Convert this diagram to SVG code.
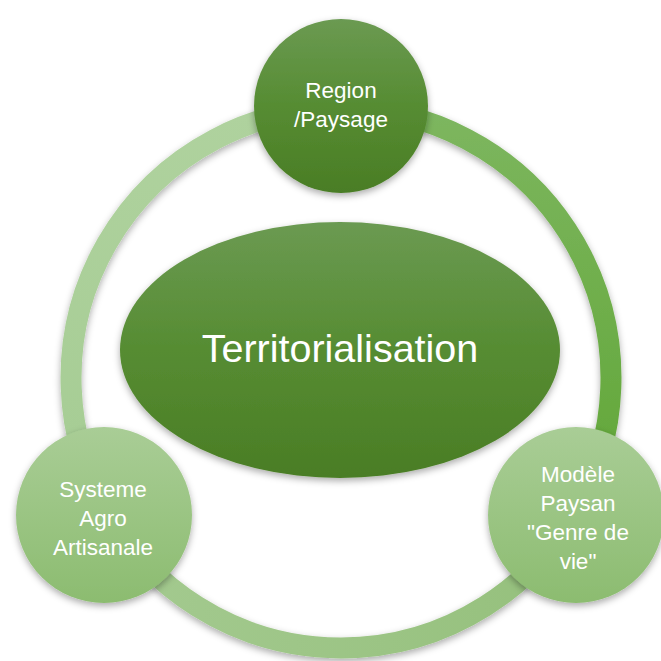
<svg xmlns="http://www.w3.org/2000/svg" width="661" height="661" viewBox="0 0 661 661">
<defs>
<style>
.lbl{font-family:"Liberation Sans",Arial,sans-serif;fill:#ffffff;text-anchor:middle}
.sm{font-size:22.5px}
.big{font-size:39.5px}
.arc{fill:none;stroke-width:21;filter:url(#sh)}
</style>
<linearGradient id="gDark" x1="0" y1="0" x2="0" y2="1">
<stop offset="0" stop-color="#6b9a52"/>
<stop offset="0.5" stop-color="#568c32"/>
<stop offset="1" stop-color="#4a7d25"/>
</linearGradient>
<linearGradient id="gLight" x1="0" y1="0" x2="0" y2="1">
<stop offset="0" stop-color="#a9cd96"/>
<stop offset="1" stop-color="#8cbc70"/>
</linearGradient>
<linearGradient id="gRight" gradientUnits="userSpaceOnUse" x1="0" y1="108" x2="0" y2="513">
<stop offset="0" stop-color="#7db65f"/>
<stop offset="1" stop-color="#60a636"/>
</linearGradient>
<linearGradient id="gBottom" gradientUnits="userSpaceOnUse" x1="107" y1="0" x2="575" y2="0">
<stop offset="0" stop-color="#a4ca90"/>
<stop offset="1" stop-color="#95c07c"/>
</linearGradient>
<linearGradient id="gLeft" gradientUnits="userSpaceOnUse" x1="0" y1="108" x2="0" y2="513">
<stop offset="0" stop-color="#afd29e"/>
<stop offset="1" stop-color="#a5cc93"/>
</linearGradient>
<filter id="sh" x="-20%" y="-20%" width="140%" height="140%">
<feDropShadow dx="0" dy="3" stdDeviation="3.5" flood-color="#000" flood-opacity="0.33"/>
</filter>
</defs>
<rect width="661" height="661" fill="#ffffff"/>
<g id="connectors">
<path class="arc" stroke="url(#gRight)" d="M341 108 A270 270 0 0 1 574.8 513"/>
<path class="arc" stroke="url(#gBottom)" d="M574.8 513 A270 270 0 0 1 107.2 513"/>
<path class="arc" stroke="url(#gLeft)" d="M107.2 513 A270 270 0 0 1 341 108"/>
</g>
<g id="node-center">
<ellipse cx="340" cy="350" rx="220" ry="128" fill="url(#gDark)" filter="url(#sh)"/>
<text class="lbl big" x="340" y="362">Territorialisation</text>
</g>
<g id="node-region">
<circle cx="341" cy="106" r="87" fill="url(#gDark)" filter="url(#sh)"/>
<text class="lbl sm" x="341" y="98">Region</text>
<text class="lbl sm" x="341" y="127">/Paysage</text>
</g>
<g id="node-systeme">
<circle cx="104" cy="515" r="88" fill="url(#gLight)" filter="url(#sh)"/>
<text class="lbl sm" x="103" y="497">Systeme</text>
<text class="lbl sm" x="103" y="526">Agro</text>
<text class="lbl sm" x="103" y="555">Artisanale</text>
</g>
<g id="node-modele">
<circle cx="576" cy="515" r="88" fill="url(#gLight)" filter="url(#sh)"/>
<text class="lbl sm" x="578" y="482">Modèle</text>
<text class="lbl sm" x="578" y="511">Paysan</text>
<text class="lbl sm" x="578" y="540">"Genre de</text>
<text class="lbl sm" x="578" y="569">vie"</text>
</g>
</svg>
